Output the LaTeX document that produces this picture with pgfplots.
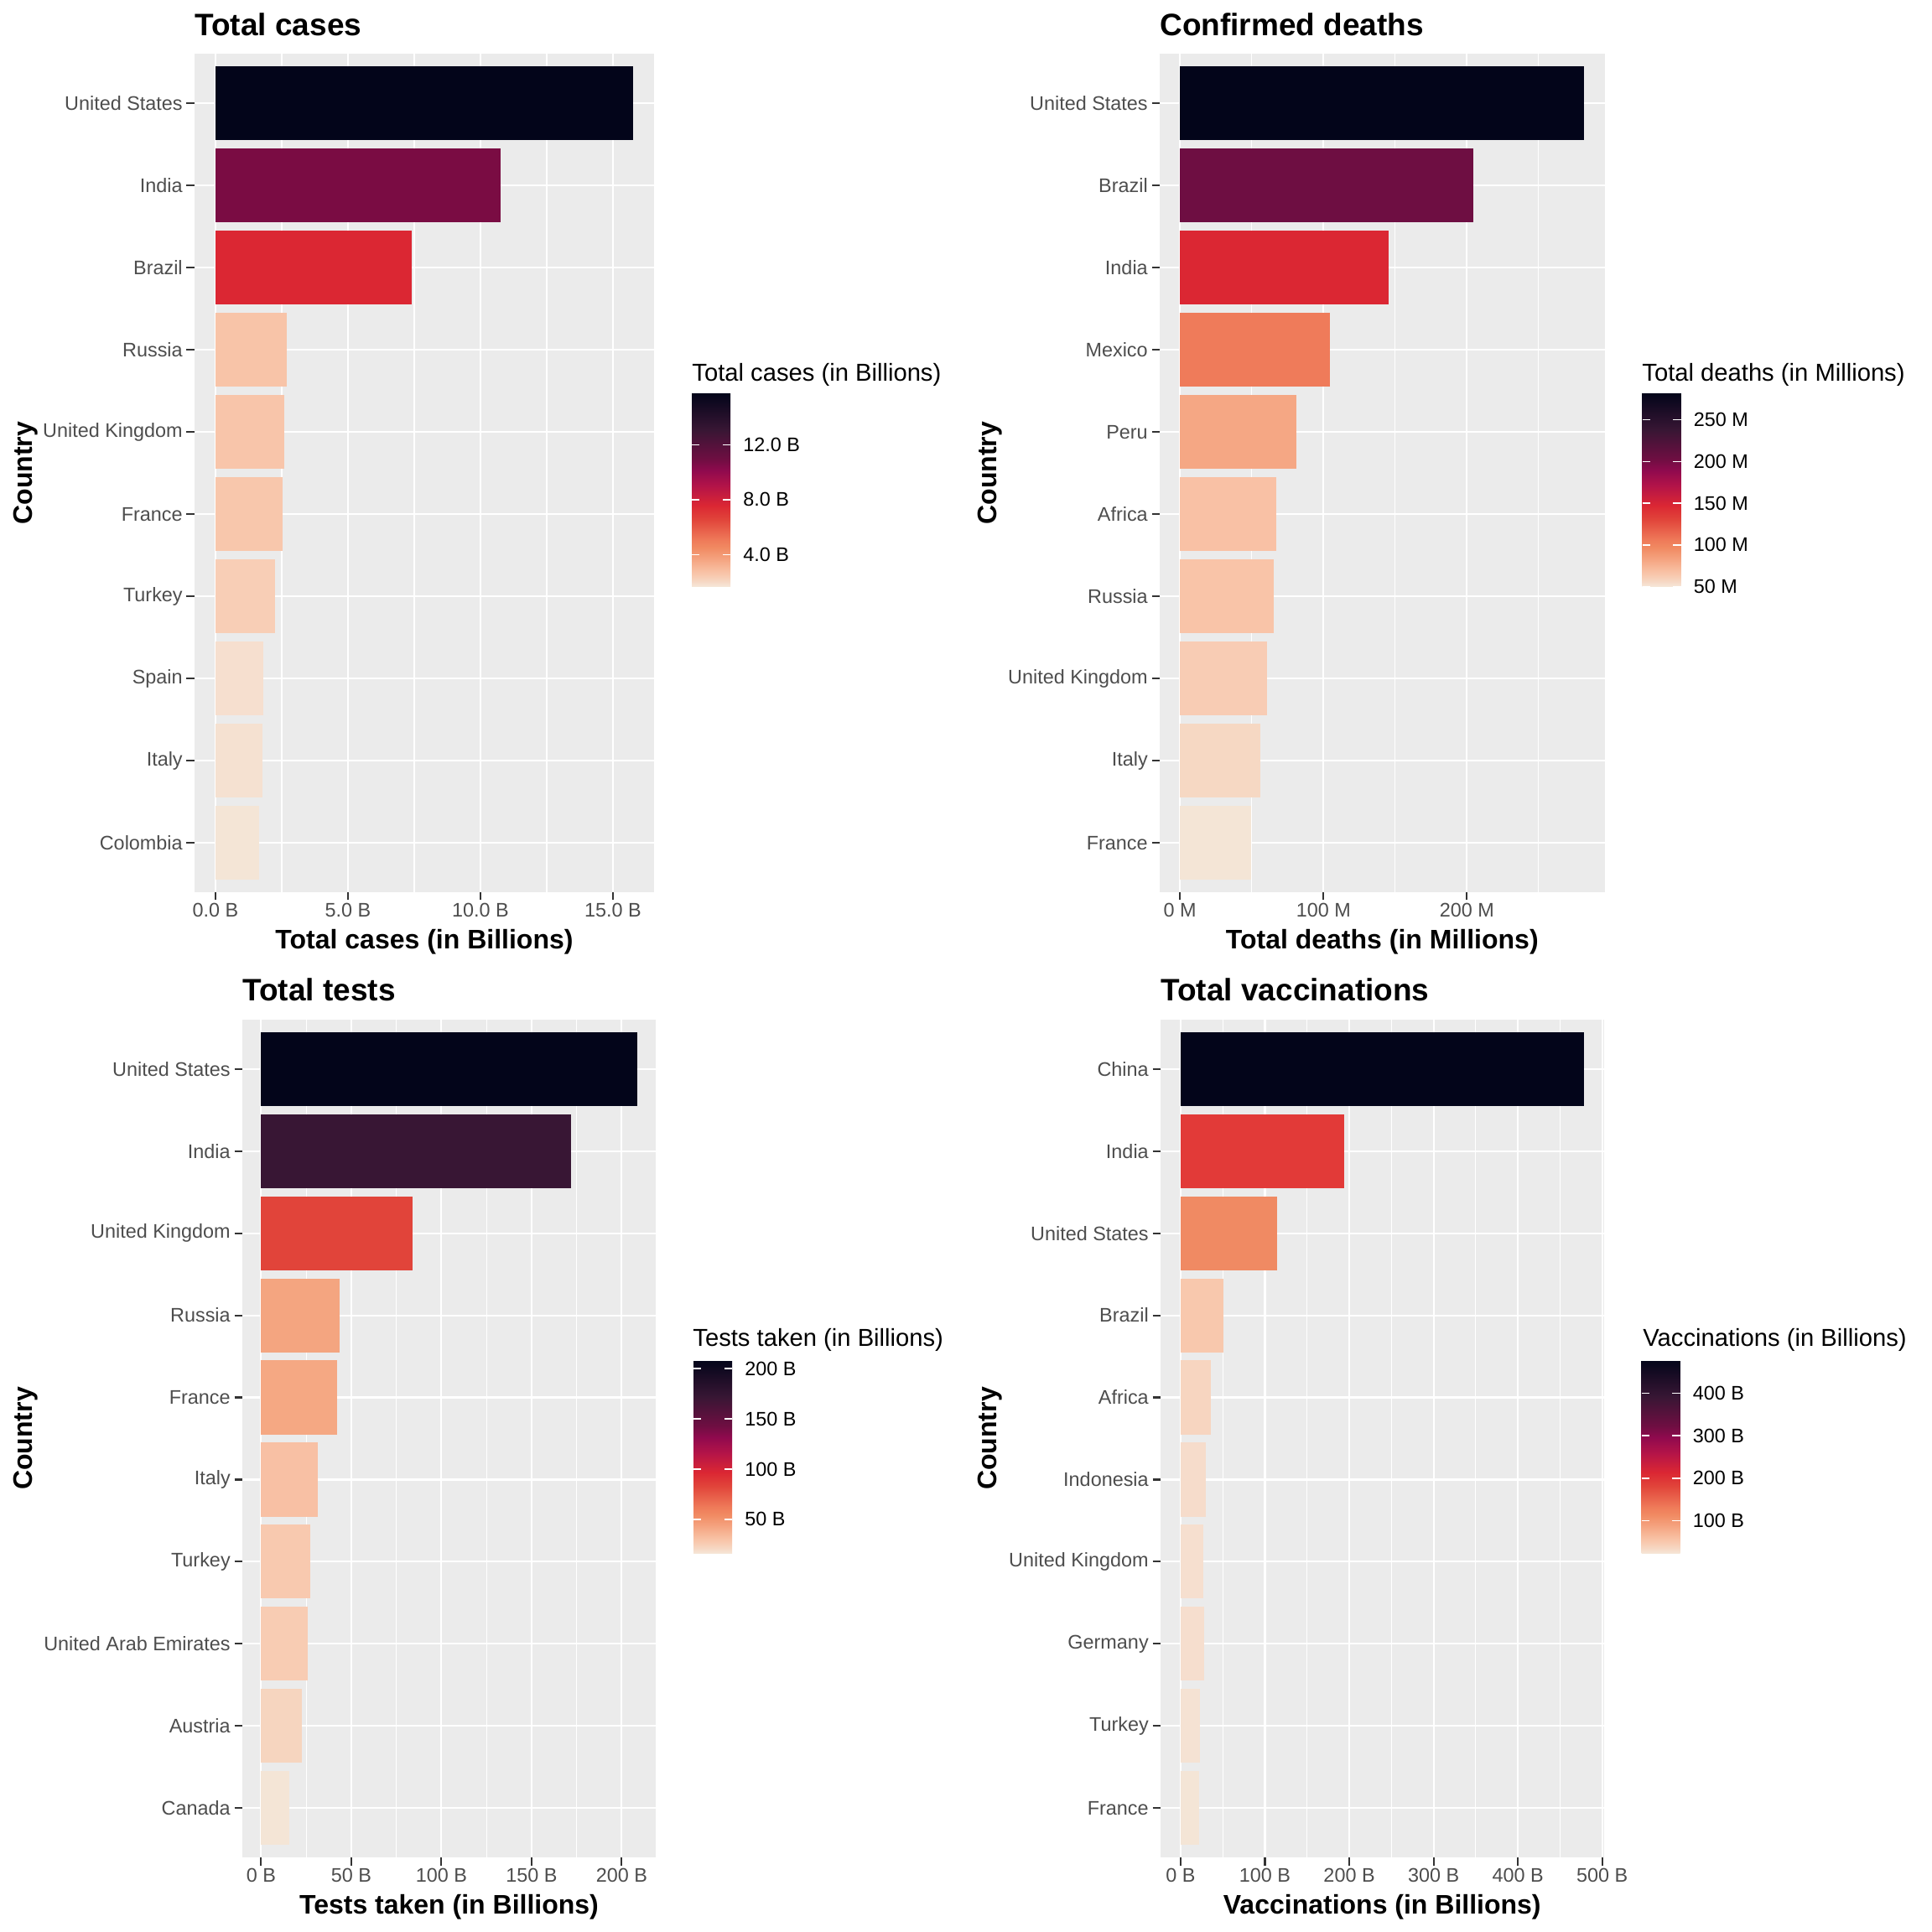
\documentclass[border=0pt]{standalone}
\usepackage{fontspec}
\setmainfont{Liberation Sans}
\usepackage{pgfplots}
\pgfplotsset{compat=1.18}

\definecolor{panelbg}{HTML}{EBEBEB}
\definecolor{tickgrey}{HTML}{333333}
\definecolor{labelgrey}{HTML}{4D4D4D}

\newcommand\tickfont{\fontsize{11.7bp}{14bp}\selectfont}
\newcommand\titlefont{\fontsize{18.5bp}{22bp}\selectfont\bfseries}
\newcommand\axtitlefont{\fontsize{16bp}{19bp}\selectfont\bfseries}
\newcommand\legtitlefont{\fontsize{14.6bp}{17bp}\selectfont}

\pgfplotsset{
  colormap={ggrocket}{
    rgb255(0pt)=(246,232,218); rgb255(3pt)=(246,215,195); rgb255(6pt)=(248,201,175);
    rgb255(8pt)=(248,193,164); rgb255(14pt)=(245,165,130); rgb255(20pt)=(241,139,99);
    rgb255(24pt)=(239,123,90); rgb255(35pt)=(225,68,58); rgb255(42pt)=(219,39,51);
    rgb255(52pt)=(180,20,72); rgb255(60pt)=(144,10,78); rgb255(66pt)=(111,14,66);
    rgb255(81pt)=(56,22,52); rgb255(100pt)=(3,5,26)
  },
  ggaxis/.style={
    scale only axis, anchor=south west,
    axis background/.style={fill=panelbg},
    axis line style={draw=none},
    tick align=outside, xtick pos=bottom, ytick pos=left,
    major tick length=4.75bp, minor tick length=0pt,
    tick style={color=tickgrey, line width=1.07bp},
    grid=both,
    major grid style={white, line width=1.07bp},
    minor grid style={white, line width=0.53bp},
    ymin=0.4, ymax=10.6, ytick={1,...,10},
    yticklabel style={font=\tickfont, text=labelgrey, inner sep=0pt, xshift=-2.2bp},
    xticklabel style={font=\tickfont, text=labelgrey, inner sep=0pt, yshift=-1.8bp},
    xlabel style={at={(axis description cs:0.5,0)}, anchor=base, yshift=-33.8bp, font=\axtitlefont},
    colorbar, colormap name=ggrocket, colorbar/width=23bp,
  },
  ggbar/.style={xbar, bar shift=0pt, bar width=0.9, draw=none, fill={#1}},
  ggcbar/.style={
    at={(parent axis.east)}, anchor=west, xshift=14bp, yshift=#1,
    scale only axis, height=115.5bp,
    axis line style={draw=none},
    tick align=inside, ytick pos=both, yticklabel pos=right,
    major tick length=4.6bp,
    tick style={color=white, line width=0.8bp},
    yticklabel style={font=\tickfont, text=black, inner sep=0pt, xshift=7.5bp},
  },
}

\begin{document}
\begin{tikzpicture}[every node/.append style={inner sep=0pt}]
\useasboundingbox (0,0) rectangle (1152bp,1152bp);

% ---- Total cases ----
\begin{axis}[ggaxis,
  at={(116bp,620bp)}, width=274bp, height=499.75bp,
  xmin=-0.79, xmax=16.55,
  xtick={0,5,10,15}, xticklabels={0.0 B,5.0 B,10.0 B,15.0 B},
  minor xtick={2.5,7.5,12.5},
  yticklabels={Colombia,Italy,Spain,Turkey,France,United Kingdom,Russia,Brazil,India,United States},
  xlabel={Total cases (in Billions)},
  point meta min=1.64, point meta max=15.76,
  colorbar style={ggcbar=-10.1bp, ytick={4,8,12}, yticklabels={4.0 B,8.0 B,12.0 B}},
]
\addplot[ggbar={rgb,255:red,3;green,5;blue,26}] coordinates {(15.76,10)};
\addplot[ggbar={rgb,255:red,122;green,12;blue,67}] coordinates {(10.77,9)};
\addplot[ggbar={rgb,255:red,219;green,39;blue,51}] coordinates {(7.40,8)};
\addplot[ggbar={rgb,255:red,248;green,196;blue,168}] coordinates {(2.68,7)};
\addplot[ggbar={rgb,255:red,248;green,197;blue,170}] coordinates {(2.61,6)};
\addplot[ggbar={rgb,255:red,248;green,199;blue,172}] coordinates {(2.52,5)};
\addplot[ggbar={rgb,255:red,248;green,206;blue,182}] coordinates {(2.26,4)};
\addplot[ggbar={rgb,255:red,246;green,223;blue,207}] coordinates {(1.80,3)};
\addplot[ggbar={rgb,255:red,245;green,225;blue,209}] coordinates {(1.78,2)};
\addplot[ggbar={rgb,255:red,244;green,229;blue,214}] coordinates {(1.64,1)};
\end{axis}

% ---- Confirmed deaths ----
\begin{axis}[ggaxis,
  at={(691.5bp,620bp)}, width=265.25bp, height=499.75bp,
  xmin=-14.1, xmax=295.9,
  xtick={0,100,200}, xticklabels={0 M,100 M,200 M},
  minor xtick={50,150,250},
  yticklabels={France,Italy,United Kingdom,Russia,Africa,Peru,Mexico,India,Brazil,United States},
  xlabel={Total deaths (in Millions)},
  point meta min=49.7, point meta max=281.8,
  colorbar style={ggcbar=-10.1bp, ytick={50,100,150,200,250}, yticklabels={50 M,100 M,150 M,200 M,250 M}},
]
\addplot[ggbar={rgb,255:red,3;green,5;blue,26}] coordinates {(281.8,10)};
\addplot[ggbar={rgb,255:red,110;green,14;blue,66}] coordinates {(204.3,9)};
\addplot[ggbar={rgb,255:red,219;green,39;blue,51}] coordinates {(145.2,8)};
\addplot[ggbar={rgb,255:red,239;green,123;blue,90}] coordinates {(104.5,7)};
\addplot[ggbar={rgb,255:red,245;green,167;blue,132}] coordinates {(80.9,6)};
\addplot[ggbar={rgb,255:red,249;green,193;blue,165}] coordinates {(67.2,5)};
\addplot[ggbar={rgb,255:red,249;green,196;blue,168}] coordinates {(65.5,4)};
\addplot[ggbar={rgb,255:red,248;green,204;blue,180}] coordinates {(60.4,3)};
\addplot[ggbar={rgb,255:red,246;green,216;blue,195}] coordinates {(56.1,2)};
\addplot[ggbar={rgb,255:red,244;green,229;blue,214}] coordinates {(49.7,1)};
\end{axis}

% ---- Total tests ----
\begin{axis}[ggaxis,
  at={(144.5bp,44.5bp)}, width=246.5bp, height=499.5bp,
  xmin=-10.4, xmax=218.9,
  xtick={0,50,100,150,200}, xticklabels={0 B,50 B,100 B,150 B,200 B},
  minor xtick={25,75,125,175},
  yticklabels={Canada,Austria,United Arab Emirates,Turkey,Italy,France,Russia,United Kingdom,India,United States},
  xlabel={Tests taken (in Billions)},
  point meta min=15.7, point meta max=208.5,
  colorbar style={ggcbar=-11bp, ytick={50,100,150,200}, yticklabels={50 B,100 B,150 B,200 B}},
]
\addplot[ggbar={rgb,255:red,3;green,5;blue,26}] coordinates {(208.5,10)};
\addplot[ggbar={rgb,255:red,56;green,22;blue,52}] coordinates {(172.0,9)};
\addplot[ggbar={rgb,255:red,225;green,68;blue,58}] coordinates {(84.0,8)};
\addplot[ggbar={rgb,255:red,244;green,165;blue,128}] coordinates {(43.7,7)};
\addplot[ggbar={rgb,255:red,245;green,168;blue,131}] coordinates {(42.3,6)};
\addplot[ggbar={rgb,255:red,248;green,192;blue,164}] coordinates {(31.4,5)};
\addplot[ggbar={rgb,255:red,248;green,201;blue,175}] coordinates {(27.3,4)};
\addplot[ggbar={rgb,255:red,248;green,204;blue,179}] coordinates {(25.9,3)};
\addplot[ggbar={rgb,255:red,246;green,213;blue,191}] coordinates {(22.5,2)};
\addplot[ggbar={rgb,255:red,244;green,229;blue,214}] coordinates {(15.7,1)};
\end{axis}

% ---- Total vaccinations ----
\begin{axis}[ggaxis,
  at={(692bp,44.5bp)}, width=264.25bp, height=499.5bp,
  xmin=-23.9, xmax=501.9,
  xtick={0,100,200,300,400,500}, xticklabels={0 B,100 B,200 B,300 B,400 B,500 B},
  minor xtick={50,150,250,350,450},
  yticklabels={France,Turkey,Germany,United Kingdom,Indonesia,Africa,Brazil,United States,India,China},
  xlabel={Vaccinations (in Billions)},
  point meta min=21.8, point meta max=478,
  colorbar style={ggcbar=-11bp, ytick={100,200,300,400}, yticklabels={100 B,200 B,300 B,400 B}},
]
\addplot[ggbar={rgb,255:red,3;green,5;blue,26}] coordinates {(478,10)};
\addplot[ggbar={rgb,255:red,226;green,58;blue,56}] coordinates {(194.2,9)};
\addplot[ggbar={rgb,255:red,240;green,138;blue,99}] coordinates {(114.2,8)};
\addplot[ggbar={rgb,255:red,248;green,200;blue,173}] coordinates {(50.9,7)};
\addplot[ggbar={rgb,255:red,247;green,213;blue,192}] coordinates {(35.6,6)};
\addplot[ggbar={rgb,255:red,246;green,220;blue,203}] coordinates {(29.8,5)};
\addplot[ggbar={rgb,255:red,246;green,223;blue,207}] coordinates {(26.9,4)};
\addplot[ggbar={rgb,255:red,246;green,222;blue,206}] coordinates {(27.6,3)};
\addplot[ggbar={rgb,255:red,245;green,226;blue,211}] coordinates {(23.3,2)};
\addplot[ggbar={rgb,255:red,244;green,229;blue,214}] coordinates {(21.8,1)};
\end{axis}

% titles, y titles, legend titles
\node[anchor=base west, font=\titlefont] at (116bp,1130.75bp) {Total cases};
\node[anchor=base west, font=\titlefont] at (691.5bp,1130.75bp) {Confirmed deaths};
\node[anchor=base west, font=\titlefont] at (144.5bp,555bp) {Total tests};
\node[anchor=base west, font=\titlefont] at (692bp,555bp) {Total vaccinations};

\node[rotate=90, anchor=base, font=\axtitlefont] at (19.4bp,869.9bp) {Country};
\node[rotate=90, anchor=base, font=\axtitlefont] at (594bp,869.9bp) {Country};
\node[rotate=90, anchor=base, font=\axtitlefont] at (19.4bp,294.25bp) {Country};
\node[rotate=90, anchor=base, font=\axtitlefont] at (594bp,294.25bp) {Country};

\node[anchor=base west, font=\legtitlefont] at (412.5bp,924.6bp) {Total cases (in Billions)};
\node[anchor=base west, font=\legtitlefont] at (979bp,924.6bp) {Total deaths (in Millions)};
\node[anchor=base west, font=\legtitlefont] at (413bp,349bp) {Tests taken (in Billions)};
\node[anchor=base west, font=\legtitlefont] at (979.5bp,349bp) {Vaccinations (in Billions)};
\end{tikzpicture}
\end{document}
